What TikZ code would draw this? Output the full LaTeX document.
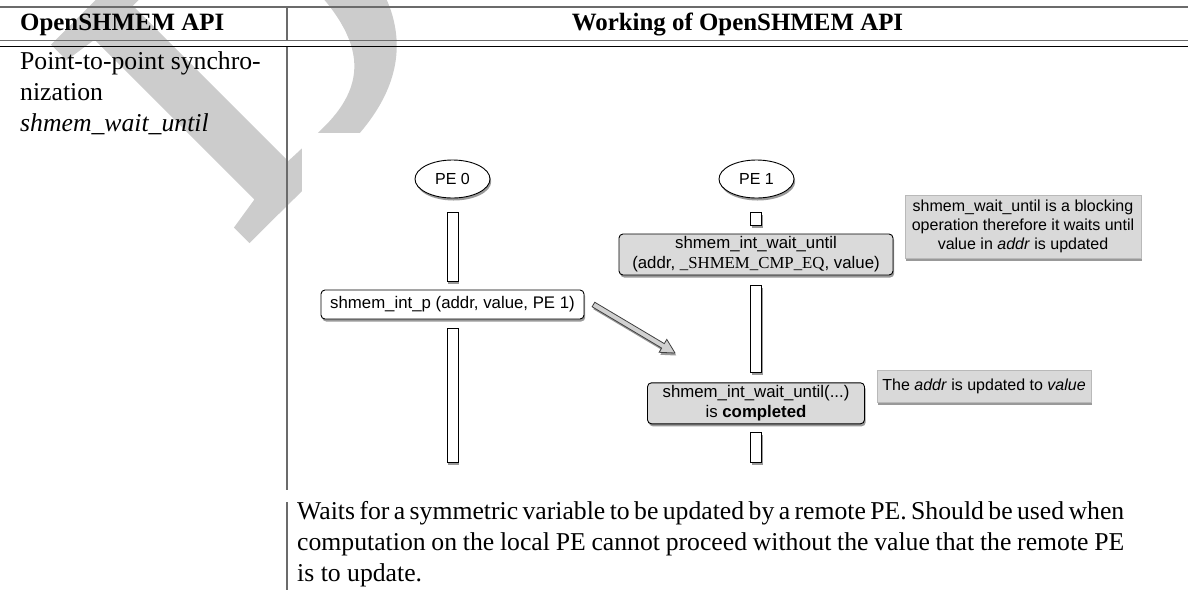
\documentclass[tikz,border=0pt]{standalone}
\usepackage{fontspec}
\setmainfont{Liberation Serif}
\setsansfont{Liberation Sans}
\newfontfamily\wmfont[FakeBold=3]{Liberation Serif}
\usetikzlibrary{shadows,calc,shapes.geometric}
\definecolor{wmgray}{gray}{0.8}
\definecolor{rulegray}{gray}{0.42}
\definecolor{boxgray}{gray}{0.855}
\definecolor{notegray}{gray}{0.85}
\definecolor{arrgray}{gray}{0.82}
\begin{document}
\begin{tikzpicture}[x=1pt,y=-1pt,
  softshadow/.style={drop shadow={shadow xshift=1.2pt, shadow yshift=-2.5pt, opacity=0.4, fill=black}},
  bar/.style={draw=black, fill=white, line width=0.9pt, minimum width=11pt, inner sep=0, softshadow},
  pe/.style={ellipse, draw=black, fill=white, line width=0.9pt, minimum width=75pt, minimum height=38pt, inner sep=0, font=\sffamily\fontsize{16}{19}\selectfont, softshadow},
  callbox/.style={draw=black, rounded corners=4pt, line width=0.9pt, inner sep=0, align=center, font=\sffamily\fontsize{16.8}{20}\selectfont, softshadow},
  notebox/.style={draw=gray!55, fill=notegray, line width=0.4pt, inner sep=0, align=center, font=\sffamily\fontsize{16}{19}\selectfont, softshadow},
  hollowarrow/.style={draw=black!75, fill=arrgray, line width=0.8pt, line join=miter, softshadow},
  rulestyle/.style={line width=1.3pt},
  hdr/.style={anchor=base, inner sep=0, font=\bfseries\fontsize{24.9}{31}\selectfont},
  cell/.style={anchor=base west, inner sep=0, font=\fontsize{25.7}{31}\selectfont},
  wmark/.style={rotate=45, anchor=base west, inner sep=0, text=wmgray, font=\wmfont\fontsize{410}{410}\selectfont}]
\useasboundingbox (0,0) rectangle (1188,590);
% watermark (letter D of a DRAFT watermark)
\begin{scope}
\clip (0,0) rectangle (1188,590);
\node[wmark] (wm) at (241,243) {D};
\end{scope}
% figure background
\fill[white] (302,133) rectangle (1188,478);
% table rules
\draw[rulestyle, rulegray] (0,7) -- (1188,7);
\draw[rulestyle, rulegray] (0,40.5) -- (1188,40.5);
\draw[rulestyle, black] (0,46.5) -- (1188,46.5);
\draw[rulegray, line width=1.5pt] (287,7) -- (287,40.5);
\draw[rulegray, line width=1.5pt] (287,46.5) -- (287,490);
\draw[rulegray, line width=1.5pt] (287,502) -- (287,590);
% header
\node[hdr, anchor=base west] (h1) at (20,30.7) {OpenSHMEM API};
\node[hdr] (h2) at (737.5,30.7) {Working of OpenSHMEM API};
% left column
\node[cell] (l1) at (20,69.3) {Point-to-point synchro-};
\node[cell] (l2) at (20,100.3) {nization};
\node[cell] (l3) at (20,131.3) {\itshape shmem\_wait\_until};
% bottom paragraph
\node[anchor=base west, inner sep=0, font=\fontsize{25.7}{31}\selectfont] (desc) at (297,519)
  {\parbox[t]{827pt}{\makebox[827pt][s]{Waits for a symmetric variable to be updated by a remote PE. Should be used when}\\
  \makebox[827pt][s]{computation on the local PE cannot proceed without the value that the remote PE}\\
  is to update.}};
% diagram: PE 0
\node[pe] (pe0) at (452.5,179) {PE 0};
\node[bar, minimum height=69pt] (a1) at (452.5,246.5) {};
\node[callbox, fill=white, minimum width=263pt, minimum height=29pt] (b0) at (452.5,304.5) {shmem\_int\_p (addr, value, PE 1)};
\node[bar, minimum height=134pt] (a2) at (452.5,395) {};
% diagram: PE 1
\node[pe] (pe1) at (756.5,179) {PE 1};
\node[bar, minimum height=12.5pt] (c1) at (756,219) {};
\node[callbox, fill=boxgray, minimum width=274pt, minimum height=41pt] (b1) at (756,254.5)
  {shmem\_int\_wait\_until\\(addr, {\rmfamily\_SHMEM\_CMP\_EQ}, value)};
\node[bar, minimum height=87pt] (c2) at (756,328.5) {};
\node[callbox, fill=boxgray, minimum width=217pt, minimum height=41pt] (b2) at (756,403.3)
  {shmem\_int\_wait\_until(...)\\is \textbf{completed}};
\node[bar, minimum height=30pt] (c3) at (756,447) {};
% notes
\node[notebox, minimum width=236pt, minimum height=63pt] (n1) at (1023,226.5)
  {shmem\_wait\_until is a blocking\\operation therefore it waits until\\value in \textit{addr} is updated};
\node[notebox, minimum width=214pt, minimum height=32pt] (n2) at (984,386)
  {The \textit{addr} is updated to \textit{value}};
% arrow
\coordinate (arrS) at ($(b0.east)+(9,0)$);
\coordinate (arrE) at (675,353);
\coordinate (arrH) at ($(arrE)!14pt!(arrS)$);
\draw[hollowarrow] ($(arrS)!2.6pt!90:(arrE)$) -- ($(arrH)!2.6pt!90:(arrE)$) -- ($(arrH)!7.5pt!90:(arrE)$) -- (arrE) -- ($(arrH)!7.5pt!-90:(arrE)$) -- ($(arrH)!2.6pt!-90:(arrE)$) -- ($(arrS)!2.6pt!-90:(arrE)$) -- cycle;
\end{tikzpicture}
\end{document}
